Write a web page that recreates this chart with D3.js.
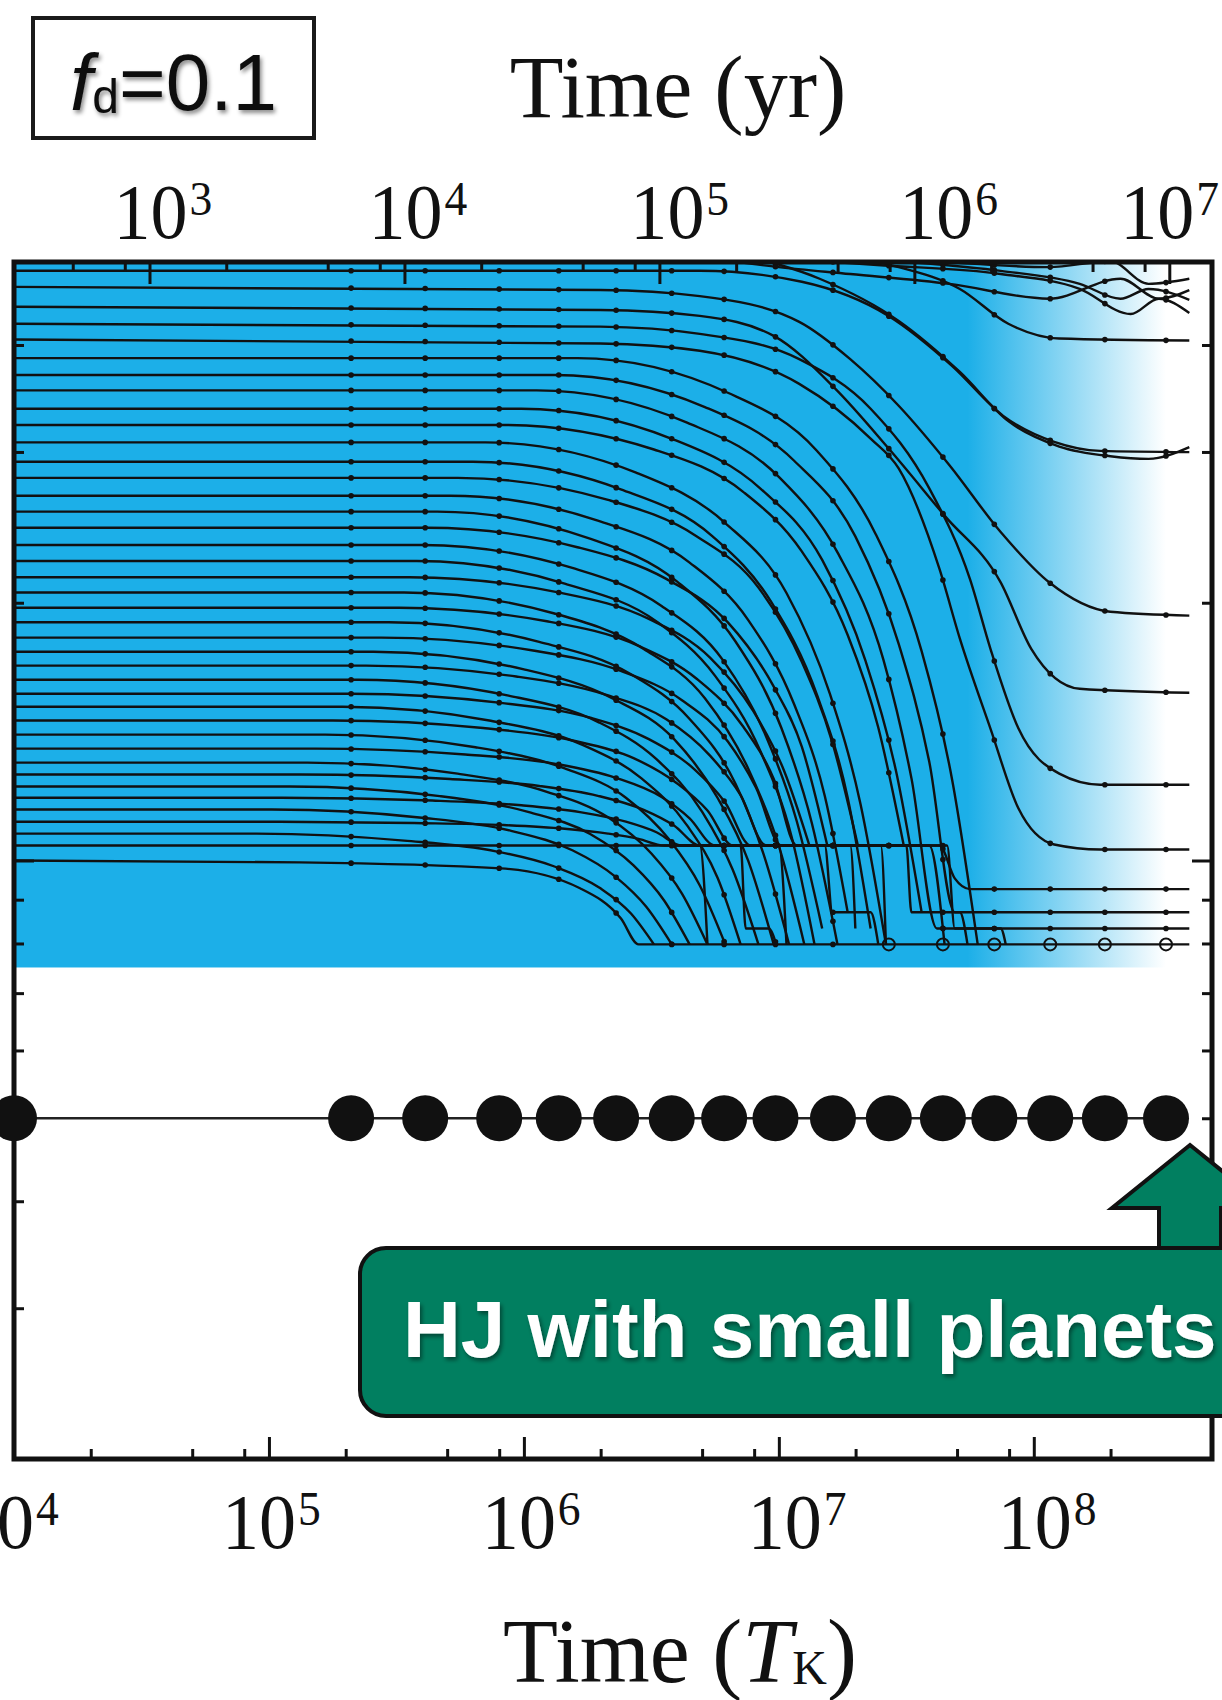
<!DOCTYPE html>
<html>
<head>
<meta charset="utf-8">
<script src="https://cdn.jsdelivr.net/npm/d3@7"></script>
<style>
  body { margin: 0; background: #fff; }
  svg { display: block; }
</style>
</head>
<body>
<svg id="chart" width="1222" height="1700"></svg>
<script>
// --- data ---
const TK_PER_YR = 34;                       // 1 yr in Kepler times
const bottomExps = [4, 5, 6, 7, 8];         // 10^n T_K labels
const topExps = [3, 4, 5, 6, 7];            // 10^n yr labels
const minorMult = [2, 5, 8];
const aMajor = [0.1];
const aMinor = [0.03, 0.04, 0.05, 0.06, 0.07, 0.08, 0.09, 0.2, 0.3, 0.4];
const diskInnerA = 0.075;                   // lower edge of the blue disk band
const diskFade = [5.5e7, 3.3e8];            // disk fades out between these times
const hjA = 0.05;                           // hot jupiter orbit
const snapTimes = [2.1e5, 4.1e5, 8.0e5, 1.37e6, 2.3e6, 3.8e6, 6.1e6, 9.7e6,
                   1.63e7, 2.7e7, 4.4e7, 7.0e7, 1.16e8, 1.9e8, 3.3e8];

// planet tracks, inner to outer: [log10 T_K, a (AU)]
const tracks = [
  [[4,.100],[5.12,.0995],[5.91,.0979],[6.22,.0928],[6.38,.0856],[6.45,.0798],[8.61,.0798]],
  [[4,.1041],[7.63,.1041],[7.69,.0953],[7.75,.0926],[8.61,.0926]],
  [[4,.1075],[4.95,.1075],[5.53,.1055],[5.89,.1025],[6.12,.0984],[6.30,.0928],[6.42,.0867],[6.51,.0798]],
  [[4,.111],[4.98,.111],[5.57,.1106],[5.92,.110],[6.16,.1089],[6.33,.1075],[6.45,.106],[6.55,.1041],[6.69,.1041],[6.72,.0798]],
  [[4,.1147],[5.01,.1147],[5.60,.1122],[5.95,.1083],[6.19,.1028],[6.36,.0957],[6.48,.0883],[6.58,.0798]],
  [[4,.1184],[5.05,.1184],[5.64,.1175],[5.99,.116],[6.22,.1139],[6.40,.111],[6.52,.1079],[6.62,.1041],[6.85,.1041],[6.87,.0833],[6.96,.0833],[6.99,.0798]],
  [[4,.122],[5.08,.122],[5.67,.1189],[6.02,.1139],[6.26,.1074],[6.43,.0987],[6.55,.0898],[6.65,.0798]],
  [[4,.126],[5.12,.126],[5.71,.1245],[6.06,.1222],[6.29,.119],[6.47,.1146],[6.59,.1098],[6.69,.1041],[7.00,.1041],[7.03,.0798]],
  [[4,.1301],[5.15,.1301],[5.74,.1263],[6.09,.1203],[6.33,.1123],[6.50,.1019],[6.62,.0915],[6.72,.0798]],
  [[4,.1351],[5.18,.1351],[5.77,.133],[6.13,.1296],[6.36,.1249],[6.54,.1186],[6.65,.112],[6.75,.1041],[7.18,.1041],[7.21,.087],[7.36,.087],[7.39,.0798]],
  [[4,.1403],[5.22,.1403],[5.81,.1356],[6.16,.1281],[6.40,.1184],[6.57,.1058],[6.69,.0935],[6.79,.0798]],
  [[4,.1457],[5.25,.1457],[5.84,.1428],[6.19,.1381],[6.43,.1317],[6.60,.1231],[6.72,.1144],[6.82,.1041],[7.28,.1041],[7.30,.0833]],
  [[4,.1512],[5.29,.1512],[5.87,.1456],[6.23,.1365],[6.46,.1248],[6.64,.1099],[6.76,.0954],[6.85,.0798]],
  [[4,.1566],[5.32,.1566],[5.91,.1528],[6.26,.1468],[6.49,.1386],[6.67,.1277],[6.79,.1168],[6.89,.1041],[7.40,.1041],[7.42,.0798]],
  [[4,.1626],[5.35,.1626],[5.94,.1558],[6.29,.1452],[6.52,.1313],[6.70,.1139],[6.82,.0974],[6.92,.0798]],
  [[4,.1689],[5.38,.1689],[5.97,.164],[6.32,.1562],[6.56,.1461],[6.73,.1326],[6.85,.1192],[6.95,.1041],[7.50,.1041],[7.52,.087],[7.71,.087],[7.74,.0798]],
  [[4,.1753],[5.41,.1753],[6.00,.1672],[6.35,.1545],[6.59,.1385],[6.76,.1183],[6.88,.0999],[6.98,.0798]],
  [[4,.1821],[5.44,.1821],[6.03,.176],[6.38,.1665],[6.62,.1539],[6.80,.1377],[6.91,.1217],[7.01,.1041],[7.59,.1041],[7.65,.0798]],
  [[4,.1898],[5.47,.1898],[6.06,.18],[6.42,.165],[6.65,.1463],[6.83,.1229],[6.94,.1017],[7.04,.0798]],
  [[4,.1973],[5.51,.1973],[6.09,.1903],[6.45,.1781],[6.68,.1628],[6.86,.1434],[6.98,.1245],[7.07,.1041],[7.66,.1041],[7.69,.0833],[7.87,.0833],[7.89,.0798]],
  [[4,.2056],[5.53,.2056],[6.12,.1943],[6.47,.1766],[6.71,.1547],[6.88,.128],[7.00,.104],[7.10,.0798]],
  [[4,.2142],[5.55,.2142],[6.14,.2055],[6.49,.1915],[6.73,.1726],[6.90,.1494],[7.02,.1274],[7.12,.1041]],
  [[4,.2238],[5.58,.2238],[6.16,.2105],[6.52,.1902],[6.75,.1643],[6.93,.1337],[7.05,.1066],[7.14,.0798]],
  [[4,.2336],[5.60,.2336],[6.19,.2196],[6.54,.1983],[6.78,.1715],[6.95,.1396],[7.07,.1112],[7.17,.0833]],
  [[4,.2447],[5.62,.2447],[6.21,.2322],[6.56,.2131],[6.80,.1897],[6.98,.1596],[7.09,.1358],[7.19,.1041]],
  [[4,.2555],[5.66,.2555],[6.25,.2381],[6.60,.2118],[6.83,.1802],[7.01,.1428],[7.13,.1104],[7.23,.0798]],
  [[4,.2667],[5.71,.2667],[6.29,.2494],[6.65,.2228],[6.88,.1909],[7.06,.1522],[7.18,.119],[7.27,.087]],
  [[4,.2798],[5.74,.2798],[6.33,.2637],[6.68,.2389],[6.92,.2083],[7.09,.1706],[7.21,.1373],[7.31,.1041]],
  [[4,.2922],[5.80,.2922],[6.38,.2713],[6.74,.2391],[6.97,.2004],[7.15,.156],[7.27,.1184],[7.36,.0833]],
  [[4,.3078],[5.85,.3078],[6.44,.2838],[6.79,.2478],[7.03,.2053],[7.20,.1566],[7.32,.1165],[7.42,.0798]],
  [[4,.3226],[5.92,.3226],[6.51,.302],[6.86,.2695],[7.09,.2296],[7.27,.1834],[7.39,.143],[7.49,.1041]],
  [[4,.337],[5.99,.337],[6.58,.3108],[6.93,.2715],[7.17,.2244],[7.34,.1711],[7.46,.127],[7.56,.087]],
  [[4,.354],[6.05,.354],[6.64,.3246],[7.00,.2805],[7.23,.229],[7.41,.1716],[7.52,.1248],[7.62,.0833],[8.61,.0833]],
  [[4,.369],[6.12,.369],[6.71,.3385],[7.06,.293],[7.30,.2391],[7.47,.1791],[7.59,.1304],[7.69,.087],[8.61,.087]],
  [[4,.3861],[6.21,.3861],[6.80,.3518],[7.15,.3008],[7.38,.2405],[7.56,.1756],[7.68,.1241],[7.78,.0798]],
  [[4,.406],[6.30,.4016],[6.69,.3938],[7.08,.3603],[7.36,.311],[7.47,.287],[7.63,.219],[7.71,.1816],[7.83,.1426],[7.94,.115],[8.08,.1044],[8.26,.103],[8.61,.103]],
  [[4,.4235],[6.30,.4202],[6.69,.4121],[7.08,.385],[7.36,.337],[7.59,.272],[7.75,.213],[7.83,.1767],[7.94,.1426],[8.10,.1263],[8.26,.1226],[8.61,.1226]],
  [[4,.4434],[6.30,.4395],[6.69,.4325],[6.98,.4099],[7.22,.356],[7.43,.303],[7.65,.2528],[7.87,.2113],[7.99,.1767],[8.18,.1587],[8.61,.157]],
  [[4,.4676],[6.30,.4637],[6.69,.4562],[7.08,.4256],[7.28,.385],[7.47,.3397],[7.67,.2893],[7.87,.2419],[8.06,.2113],[8.30,.1952],[8.61,.1932]],
  [[4,.4884],[6.69,.4884],[7.09,.4741],[7.43,.4325],[7.68,.378],[7.88,.3306],[8.08,.3083],[8.26,.3009],[8.61,.2999]]
];

// planets drifting in from beyond the top of the plot
const incoming = [
  [[6.85,.51],[7.16,.478],[7.47,.4268],[7.71,.372],[7.90,.3259],[8.10,.3044],[8.30,.2966],[8.45,.2945],[8.61,.304]],
  [[7.16,.51],[7.47,.4932],[7.71,.465],[7.90,.4235],[8.10,.407],[8.61,.4048]],
  [[6.69,.507],[7.00,.4932],[7.28,.4841],[7.67,.4715],[8.06,.453],[8.34,.478],[8.49,.453],[8.61,.4637]],
  [[6.92,.507],[7.40,.4957],[7.87,.4841],[8.18,.4652],[8.38,.4347],[8.49,.453],[8.61,.4359]],
  [[7.28,.507],[7.67,.4995],[8.06,.4932],[8.30,.501],[8.45,.4715],[8.61,.478]],
  [[7.47,.501],[7.87,.4882],[8.18,.4715],[8.34,.453],[8.45,.4649],[8.61,.4517]]
];

// --- layout ---
const svg = d3.select("#chart");
const L = 14, R = 1212, T = 262, B = 1459;
const ink = "#111";
const blue = "#1cafe8";
const green = "#017f60";

const x = d3.scaleLog().domain([1e4, 5e8]).range([L, R]);
const xYr = d3.scaleLog().domain([1e4 / TK_PER_YR, 5e8 / TK_PER_YR]).range([L, R]);
const y = d3.scaleLog().domain([0.02, 0.5]).range([B, T]);

const defs = svg.append("defs");
const grad = defs.append("linearGradient")
  .attr("id", "diskFade")
  .attr("gradientUnits", "userSpaceOnUse")
  .attr("x1", x(diskFade[0])).attr("x2", x(diskFade[1]))
  .attr("y1", 0).attr("y2", 0);
grad.append("stop").attr("offset", 0).attr("stop-color", blue);
grad.append("stop").attr("offset", 1).attr("stop-color", "#fff");

const shadow = defs.append("filter").attr("id", "shadow")
  .attr("x", "-10%").attr("y", "-20%").attr("width", "130%").attr("height", "150%");
shadow.append("feDropShadow").attr("dx", 2).attr("dy", 3)
  .attr("stdDeviation", 2).attr("flood-color", "#000").attr("flood-opacity", 0.45);

defs.append("clipPath").attr("id", "plotClip")
  .append("rect").attr("x", L).attr("y", T).attr("width", R - L).attr("height", B - T);

// gas disk band
svg.append("rect")
  .attr("x", L).attr("y", T)
  .attr("width", R - L).attr("height", y(diskInnerA) - T)
  .attr("fill", "url(#diskFade)");

// planet tracks
const line = d3.line()
  .x(d => x(Math.pow(10, d[0])))
  .y(d => y(d[1]))
  .curve(d3.curveMonotoneX);

const allTracks = tracks.concat(incoming);
const trackG = svg.append("g").attr("clip-path", "url(#plotClip)");
const paths = trackG.selectAll("path")
  .data(allTracks)
  .join("path")
  .attr("d", line)
  .attr("fill", "none")
  .attr("stroke", ink)
  .attr("stroke-width", 2.4)
  .attr("stroke-linejoin", "round");

// snapshot dots sitting on each track
function pointAtX(node, px) {
  let lo = 0, hi = node.getTotalLength();
  for (let k = 0; k < 30; k++) {
    const mid = (lo + hi) / 2;
    if (node.getPointAtLength(mid).x < px) lo = mid; else hi = mid;
  }
  return node.getPointAtLength((lo + hi) / 2);
}
const dots = [];
paths.each(function (d, i) {
  const t0 = Math.pow(10, d[0][0]), t1 = Math.pow(10, d[d.length - 1][0]);
  snapTimes.forEach(s => {
    if (s > t0 && s <= t1) {
      const p = pointAtX(this, x(s));
      dots.push({x: p.x, y: p.y, open: i === 0 && s >= 2.7e7});
    }
  });
});
trackG.selectAll("circle.dot")
  .data(dots)
  .join("circle")
  .attr("class", "dot")
  .attr("cx", d => d.x).attr("cy", d => d.y)
  .attr("r", d => d.open ? 6 : 2.8)
  .attr("fill", d => d.open ? "none" : ink)
  .attr("stroke", d => d.open ? ink : "none")
  .attr("stroke-width", 2);

// axes (ticks only, pointing inward)
function decadeMinors(lo, hi) {
  const out = [];
  for (let e = Math.floor(Math.log10(lo)); e <= Math.ceil(Math.log10(hi)); e++) {
    minorMult.forEach(m => {
      const v = m * Math.pow(10, e);
      if (v > lo && v < hi) out.push(v);
    });
  }
  return out;
}
function tickStyle(g) {
  g.select(".domain").remove();
  g.selectAll(".tick line").attr("stroke", ink).attr("stroke-width", 3);
}
const bMajor = bottomExps.slice(1).map(e => Math.pow(10, e));
const bMinor = decadeMinors(1e4, 5e8);
svg.append("g").attr("transform", `translate(0,${B})`)
  .call(d3.axisBottom(x).tickValues(bMajor).tickSize(-22).tickFormat("")).call(tickStyle);
svg.append("g").attr("transform", `translate(0,${B})`)
  .call(d3.axisBottom(x).tickValues(bMinor).tickSize(-10).tickFormat("")).call(tickStyle);

const yrDom = xYr.domain();
const tMajor = topExps.map(e => Math.pow(10, e));
const tMinor = decadeMinors(yrDom[0], yrDom[1]);
svg.append("g").attr("transform", `translate(0,${T})`)
  .call(d3.axisTop(xYr).tickValues(tMajor).tickSize(-22).tickFormat("")).call(tickStyle);
svg.append("g").attr("transform", `translate(0,${T})`)
  .call(d3.axisTop(xYr).tickValues(tMinor).tickSize(-10).tickFormat("")).call(tickStyle);

[[d3.axisLeft, L], [d3.axisRight, R]].forEach(([ax, pos]) => {
  svg.append("g").attr("transform", `translate(${pos},0)`)
    .call(ax(y).tickValues(aMajor).tickSize(-20).tickFormat("")).call(tickStyle);
  svg.append("g").attr("transform", `translate(${pos},0)`)
    .call(ax(y).tickValues(aMinor).tickSize(-10).tickFormat("")).call(tickStyle);
});

// frame
svg.append("rect")
  .attr("x", L).attr("y", T).attr("width", R - L).attr("height", B - T)
  .attr("fill", "none").attr("stroke", ink).attr("stroke-width", 5);

// hot jupiter row
const hjTimes = [1e4].concat(snapTimes);
svg.append("line")
  .attr("x1", x(hjTimes[0])).attr("x2", x(hjTimes[hjTimes.length - 1]))
  .attr("y1", y(hjA)).attr("y2", y(hjA))
  .attr("stroke", "#222").attr("stroke-width", 2.5);
svg.append("g").selectAll("circle")
  .data(hjTimes)
  .join("circle")
  .attr("cx", d => x(d)).attr("cy", y(hjA))
  .attr("r", 23)
  .attr("fill", ink);

// tick labels: 10^n with a superscript, slightly condensed serif
const serif = "'Liberation Serif', 'Times New Roman', Times, serif";
function addPow(parent, px, base, e) {
  const lab = parent.append("g")
    .attr("transform", `translate(${px},${base}) scale(0.95,1)`)
    .attr("font-family", serif).attr("fill", ink);
  lab.append("text").attr("text-anchor", "middle").attr("font-size", 78).text("10");
  lab.append("text").attr("x", 41).attr("y", -23).attr("font-size", 48).text(e);
}
const bottomShift = [-17, -10, -5, 6, 1];   // hand placement in the original
const topShift = [1, 1, 8, 22, -12];
const labG = svg.append("g");
bottomExps.forEach((e, i) => addPow(labG, x(Math.pow(10, e)) + bottomShift[i], 1548, e));
topExps.forEach((e, i) => addPow(labG, xYr(Math.pow(10, e)) + topShift[i], 238, e));

// axis titles
svg.append("text")
  .attr("x", 678).attr("y", 117)
  .attr("text-anchor", "middle")
  .attr("font-family", serif).attr("font-size", 88).attr("fill", ink)
  .text("Time (yr)");
const bt = svg.append("text")
  .attr("x", 680).attr("y", 1682)
  .attr("text-anchor", "middle")
  .attr("font-family", serif).attr("font-size", 90).attr("fill", ink);
bt.append("tspan").text("Time (");
bt.append("tspan").attr("font-style", "italic").text("T");
bt.append("tspan").attr("font-size", 48).attr("dy", 2).text("K");
bt.append("tspan").attr("dy", -2).text(")");

// f_d box
svg.append("rect")
  .attr("x", 33).attr("y", 18).attr("width", 281).attr("height", 120)
  .attr("fill", "#fff").attr("stroke", "#1a1a1a").attr("stroke-width", 4);
const fd = svg.append("text")
  .attr("x", 70).attr("y", 110)
  .attr("font-family", "'Liberation Sans', Helvetica, Arial, sans-serif")
  .attr("font-size", 80).attr("fill", ink)
  .attr("filter", "url(#shadow)");
fd.append("tspan").attr("font-style", "italic").text("f");
fd.append("tspan").attr("font-size", 48).attr("dy", 3).text("d");
fd.append("tspan").attr("dy", -3).text("=0.1");

// arrow + callout
const ax0 = 1190, tipY = 1145, headY = 1208, headHalf = 78, shaftHalf = 31, boxY = 1248;
svg.append("path")
  .attr("d", `M${ax0},${tipY} L${ax0 + headHalf},${headY} L${ax0 + shaftHalf},${headY}
              L${ax0 + shaftHalf},${boxY + 10} L${ax0 - shaftHalf},${boxY + 10}
              L${ax0 - shaftHalf},${headY} L${ax0 - headHalf},${headY} Z`)
  .attr("fill", green).attr("stroke", ink).attr("stroke-width", 4)
  .attr("stroke-linejoin", "miter");
svg.append("rect")
  .attr("x", 360).attr("y", boxY).attr("width", 900).attr("height", 168)
  .attr("rx", 26)
  .attr("fill", green).attr("stroke", ink).attr("stroke-width", 4);
svg.append("text")
  .attr("x", 403).attr("y", 1357)
  .attr("font-family", "'Liberation Sans', Helvetica, Arial, sans-serif")
  .attr("font-weight", "bold").attr("font-size", 80).attr("fill", "#fff")
  .attr("filter", "url(#shadow)")
  .text("HJ with small planets");
</script>
</body>
</html>
